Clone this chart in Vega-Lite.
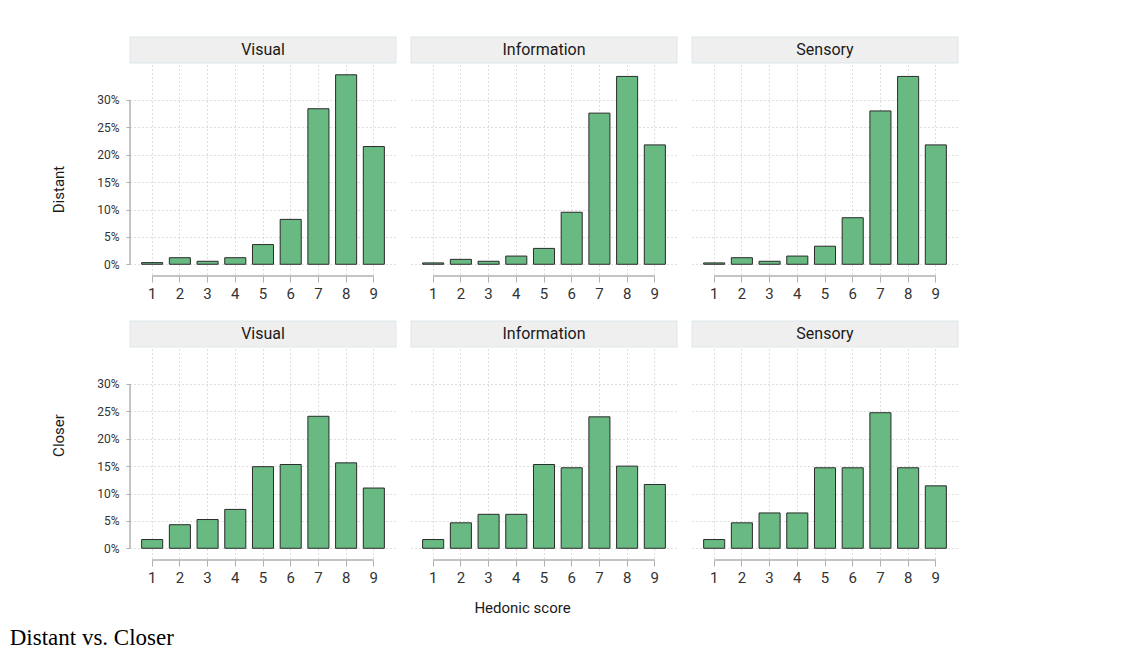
{
  "$schema": "https://vega.github.io/schema/vega-lite/v6.json",
  "background": "white",
  "padding": {"left": 9, "top": 36, "right": 5, "bottom": 5},
  "datasets": {
    "d": [
      {"dist": "Distant", "cond": "Visual", "score": 1, "pct": 0.003},
      {"dist": "Distant", "cond": "Visual", "score": 2, "pct": 0.012},
      {"dist": "Distant", "cond": "Visual", "score": 3, "pct": 0.0055},
      {"dist": "Distant", "cond": "Visual", "score": 4, "pct": 0.012},
      {"dist": "Distant", "cond": "Visual", "score": 5, "pct": 0.036},
      {"dist": "Distant", "cond": "Visual", "score": 6, "pct": 0.082},
      {"dist": "Distant", "cond": "Visual", "score": 7, "pct": 0.284},
      {"dist": "Distant", "cond": "Visual", "score": 8, "pct": 0.346},
      {"dist": "Distant", "cond": "Visual", "score": 9, "pct": 0.215},
      {"dist": "Distant", "cond": "Information", "score": 1, "pct": 0.0025},
      {"dist": "Distant", "cond": "Information", "score": 2, "pct": 0.009},
      {"dist": "Distant", "cond": "Information", "score": 3, "pct": 0.0055},
      {"dist": "Distant", "cond": "Information", "score": 4, "pct": 0.015},
      {"dist": "Distant", "cond": "Information", "score": 5, "pct": 0.029},
      {"dist": "Distant", "cond": "Information", "score": 6, "pct": 0.095},
      {"dist": "Distant", "cond": "Information", "score": 7, "pct": 0.276},
      {"dist": "Distant", "cond": "Information", "score": 8, "pct": 0.343},
      {"dist": "Distant", "cond": "Information", "score": 9, "pct": 0.218},
      {"dist": "Distant", "cond": "Sensory", "score": 1, "pct": 0.0025},
      {"dist": "Distant", "cond": "Sensory", "score": 2, "pct": 0.012},
      {"dist": "Distant", "cond": "Sensory", "score": 3, "pct": 0.0055},
      {"dist": "Distant", "cond": "Sensory", "score": 4, "pct": 0.015},
      {"dist": "Distant", "cond": "Sensory", "score": 5, "pct": 0.033},
      {"dist": "Distant", "cond": "Sensory", "score": 6, "pct": 0.085},
      {"dist": "Distant", "cond": "Sensory", "score": 7, "pct": 0.28},
      {"dist": "Distant", "cond": "Sensory", "score": 8, "pct": 0.343},
      {"dist": "Distant", "cond": "Sensory", "score": 9, "pct": 0.218},
      {"dist": "Closer", "cond": "Visual", "score": 1, "pct": 0.016},
      {"dist": "Closer", "cond": "Visual", "score": 2, "pct": 0.043},
      {"dist": "Closer", "cond": "Visual", "score": 3, "pct": 0.0525},
      {"dist": "Closer", "cond": "Visual", "score": 4, "pct": 0.071},
      {"dist": "Closer", "cond": "Visual", "score": 5, "pct": 0.149},
      {"dist": "Closer", "cond": "Visual", "score": 6, "pct": 0.153},
      {"dist": "Closer", "cond": "Visual", "score": 7, "pct": 0.241},
      {"dist": "Closer", "cond": "Visual", "score": 8, "pct": 0.156},
      {"dist": "Closer", "cond": "Visual", "score": 9, "pct": 0.11},
      {"dist": "Closer", "cond": "Information", "score": 1, "pct": 0.016},
      {"dist": "Closer", "cond": "Information", "score": 2, "pct": 0.0465},
      {"dist": "Closer", "cond": "Information", "score": 3, "pct": 0.062},
      {"dist": "Closer", "cond": "Information", "score": 4, "pct": 0.062},
      {"dist": "Closer", "cond": "Information", "score": 5, "pct": 0.153},
      {"dist": "Closer", "cond": "Information", "score": 6, "pct": 0.147},
      {"dist": "Closer", "cond": "Information", "score": 7, "pct": 0.24},
      {"dist": "Closer", "cond": "Information", "score": 8, "pct": 0.15},
      {"dist": "Closer", "cond": "Information", "score": 9, "pct": 0.1165},
      {"dist": "Closer", "cond": "Sensory", "score": 1, "pct": 0.016},
      {"dist": "Closer", "cond": "Sensory", "score": 2, "pct": 0.0465},
      {"dist": "Closer", "cond": "Sensory", "score": 3, "pct": 0.0645},
      {"dist": "Closer", "cond": "Sensory", "score": 4, "pct": 0.0645},
      {"dist": "Closer", "cond": "Sensory", "score": 5, "pct": 0.147},
      {"dist": "Closer", "cond": "Sensory", "score": 6, "pct": 0.147},
      {"dist": "Closer", "cond": "Sensory", "score": 7, "pct": 0.2475},
      {"dist": "Closer", "cond": "Sensory", "score": 8, "pct": 0.147},
      {"dist": "Closer", "cond": "Sensory", "score": 9, "pct": 0.114}
    ]
  },
  "title": {
    "text": "Distant vs. Closer",
    "orient": "bottom",
    "anchor": "start",
    "font": "Liberation Serif",
    "fontSize": 23,
    "fontWeight": "normal",
    "color": "#000000",
    "offset": 12,
    "dx": -42
  },
  "spacing": 19,
  "vconcat": [
    {
      "spacing": 13,
      "hconcat": [
        {
          "data": {"name": "d"},
          "transform": [{"filter": "datum.dist === 'Distant' && datum.cond === 'Visual'"}],
          "width": 266, "height": 239,
          "resolve": {"scale": {"x": "independent"}},
          "layer": [
            {"layer": [
              {"mark": {"type": "bar", "fill": "#69b982", "stroke": "#2a2a2a", "strokeWidth": 1},
               "encoding": {
                 "x": {"field": "score", "type": "ordinal", "scale": {"paddingInner": 0.24, "paddingOuter": 0.42}, "axis": {"title": null}},
                 "y": {"field": "pct", "type": "quantitative", "scale": {"domain": [-0.0214, 0.415], "nice": false, "zero": false},
                   "axis": {"title": "Distant", "titleY": 152, "values": [0, 0.05, 0.1, 0.15, 0.2, 0.25, 0.3], "format": ".0%", "labelOverlap": false}}}},
              {"transform": [{"filter": "datum.score === 1"}],
               "mark": {"type": "rule", "color": "#b0b0b0", "strokeWidth": 1.5},
               "encoding": {"x": {"datum": 1, "type": "ordinal", "bandPosition": 0.5, "axis": {"title": null}}, "x2": {"datum": 9, "bandPosition": 0.5},
                 "y": {"datum": -0.0214, "type": "quantitative", "axis": {"title": "Distant", "titleY": 152, "values": [0, 0.05, 0.1, 0.15, 0.2, 0.25, 0.3], "format": ".0%", "labelOverlap": false}}}},
              {"transform": [{"filter": "datum.score === 1"}],
               "mark": {"type": "rect", "fill": "#efefef", "stroke": "#dce6eb", "strokeWidth": 1},
               "encoding": {"y": {"datum": 0.3675, "type": "quantitative", "axis": {"title": "Distant", "titleY": 152, "values": [0, 0.05, 0.1, 0.15, 0.2, 0.25, 0.3], "format": ".0%", "labelOverlap": false}}, "y2": {"datum": 0.415}}},
              {"transform": [{"filter": "datum.score === 1"}],
               "mark": {"type": "text", "font": "Roboto", "fontSize": 16, "color": "#1a1a1a", "baseline": "middle"},
               "encoding": {"text": {"field": "cond"}, "y": {"datum": 0.391, "type": "quantitative", "axis": {"title": "Distant", "titleY": 152, "values": [0, 0.05, 0.1, 0.15, 0.2, 0.25, 0.3], "format": ".0%", "labelOverlap": false}}}}
            ]},
            {"transform": [{"filter": "datum.score === 1"}],
             "mark": {"type": "rule", "color": "#b0b0b0", "strokeWidth": 1.5},
             "encoding": {"x": {"datum": 0, "type": "quantitative", "scale": {"domain": [0, 1]}, "axis": null},
               "y": {"datum": 0, "type": "quantitative", "axis": {"title": "Distant", "titleY": 152, "values": [0, 0.05, 0.1, 0.15, 0.2, 0.25, 0.3], "format": ".0%", "labelOverlap": false}}, "y2": {"datum": 0.3}}}
          ]
        },
        {
          "data": {"name": "d"},
          "transform": [{"filter": "datum.dist === 'Distant' && datum.cond === 'Information'"}],
          "width": 266, "height": 239,
          "layer": [
            {"mark": {"type": "bar", "fill": "#69b982", "stroke": "#2a2a2a", "strokeWidth": 1},
             "encoding": {
               "x": {"field": "score", "type": "ordinal", "scale": {"paddingInner": 0.24, "paddingOuter": 0.42}, "axis": {"title": null}},
               "y": {"field": "pct", "type": "quantitative", "scale": {"domain": [-0.0214, 0.415], "nice": false, "zero": false},
                 "axis": {"title": null, "labels": false, "ticks": false, "values": [0, 0.05, 0.1, 0.15, 0.2, 0.25, 0.3]}}}},
            {"transform": [{"filter": "datum.score === 1"}],
             "mark": {"type": "rule", "color": "#b0b0b0", "strokeWidth": 1.5},
             "encoding": {"x": {"datum": 1, "type": "ordinal", "bandPosition": 0.5, "axis": {"title": null}}, "x2": {"datum": 9, "bandPosition": 0.5},
               "y": {"datum": -0.0214, "type": "quantitative", "axis": {"title": null, "labels": false, "ticks": false, "values": [0, 0.05, 0.1, 0.15, 0.2, 0.25, 0.3]}}}},
            {"transform": [{"filter": "datum.score === 1"}],
             "mark": {"type": "rect", "fill": "#efefef", "stroke": "#dce6eb", "strokeWidth": 1},
             "encoding": {"y": {"datum": 0.3675, "type": "quantitative", "axis": {"title": null, "labels": false, "ticks": false, "values": [0, 0.05, 0.1, 0.15, 0.2, 0.25, 0.3]}}, "y2": {"datum": 0.415}}},
            {"transform": [{"filter": "datum.score === 1"}],
             "mark": {"type": "text", "font": "Roboto", "fontSize": 16, "color": "#1a1a1a", "baseline": "middle"},
             "encoding": {"text": {"field": "cond"}, "y": {"datum": 0.391, "type": "quantitative", "axis": {"title": null, "labels": false, "ticks": false, "values": [0, 0.05, 0.1, 0.15, 0.2, 0.25, 0.3]}}}}
          ]
        },
        {
          "data": {"name": "d"},
          "transform": [{"filter": "datum.dist === 'Distant' && datum.cond === 'Sensory'"}],
          "width": 266, "height": 239,
          "layer": [
            {"mark": {"type": "bar", "fill": "#69b982", "stroke": "#2a2a2a", "strokeWidth": 1},
             "encoding": {
               "x": {"field": "score", "type": "ordinal", "scale": {"paddingInner": 0.24, "paddingOuter": 0.42}, "axis": {"title": null}},
               "y": {"field": "pct", "type": "quantitative", "scale": {"domain": [-0.0214, 0.415], "nice": false, "zero": false},
                 "axis": {"title": null, "labels": false, "ticks": false, "values": [0, 0.05, 0.1, 0.15, 0.2, 0.25, 0.3]}}}},
            {"transform": [{"filter": "datum.score === 1"}],
             "mark": {"type": "rule", "color": "#b0b0b0", "strokeWidth": 1.5},
             "encoding": {"x": {"datum": 1, "type": "ordinal", "bandPosition": 0.5, "axis": {"title": null}}, "x2": {"datum": 9, "bandPosition": 0.5},
               "y": {"datum": -0.0214, "type": "quantitative", "axis": {"title": null, "labels": false, "ticks": false, "values": [0, 0.05, 0.1, 0.15, 0.2, 0.25, 0.3]}}}},
            {"transform": [{"filter": "datum.score === 1"}],
             "mark": {"type": "rect", "fill": "#efefef", "stroke": "#dce6eb", "strokeWidth": 1},
             "encoding": {"y": {"datum": 0.3675, "type": "quantitative", "axis": {"title": null, "labels": false, "ticks": false, "values": [0, 0.05, 0.1, 0.15, 0.2, 0.25, 0.3]}}, "y2": {"datum": 0.415}}},
            {"transform": [{"filter": "datum.score === 1"}],
             "mark": {"type": "text", "font": "Roboto", "fontSize": 16, "color": "#1a1a1a", "baseline": "middle"},
             "encoding": {"text": {"field": "cond"}, "y": {"datum": 0.391, "type": "quantitative", "axis": {"title": null, "labels": false, "ticks": false, "values": [0, 0.05, 0.1, 0.15, 0.2, 0.25, 0.3]}}}}
          ]
        }
      ]
    },
    {
      "spacing": 13,
      "hconcat": [
        {
          "data": {"name": "d"},
          "transform": [{"filter": "datum.dist === 'Closer' && datum.cond === 'Visual'"}],
          "width": 266, "height": 239,
          "resolve": {"scale": {"x": "independent"}},
          "layer": [
            {"layer": [
              {"mark": {"type": "bar", "fill": "#69b982", "stroke": "#2a2a2a", "strokeWidth": 1},
               "encoding": {
                 "x": {"field": "score", "type": "ordinal", "scale": {"paddingInner": 0.24, "paddingOuter": 0.42}, "axis": {"title": null}},
                 "y": {"field": "pct", "type": "quantitative", "scale": {"domain": [-0.0214, 0.415], "nice": false, "zero": false},
                   "axis": {"title": "Closer", "titleY": 114, "values": [0, 0.05, 0.1, 0.15, 0.2, 0.25, 0.3], "format": ".0%", "labelOverlap": false}}}},
              {"transform": [{"filter": "datum.score === 1"}],
               "mark": {"type": "rule", "color": "#b0b0b0", "strokeWidth": 1.5},
               "encoding": {"x": {"datum": 1, "type": "ordinal", "bandPosition": 0.5, "axis": {"title": null}}, "x2": {"datum": 9, "bandPosition": 0.5},
                 "y": {"datum": -0.0214, "type": "quantitative", "axis": {"title": "Closer", "titleY": 114, "values": [0, 0.05, 0.1, 0.15, 0.2, 0.25, 0.3], "format": ".0%", "labelOverlap": false}}}},
              {"transform": [{"filter": "datum.score === 1"}],
               "mark": {"type": "rect", "fill": "#efefef", "stroke": "#dce6eb", "strokeWidth": 1},
               "encoding": {"y": {"datum": 0.3675, "type": "quantitative", "axis": {"title": "Closer", "titleY": 114, "values": [0, 0.05, 0.1, 0.15, 0.2, 0.25, 0.3], "format": ".0%", "labelOverlap": false}}, "y2": {"datum": 0.415}}},
              {"transform": [{"filter": "datum.score === 1"}],
               "mark": {"type": "text", "font": "Roboto", "fontSize": 16, "color": "#1a1a1a", "baseline": "middle"},
               "encoding": {"text": {"field": "cond"}, "y": {"datum": 0.391, "type": "quantitative", "axis": {"title": "Closer", "titleY": 114, "values": [0, 0.05, 0.1, 0.15, 0.2, 0.25, 0.3], "format": ".0%", "labelOverlap": false}}}}
            ]},
            {"transform": [{"filter": "datum.score === 1"}],
             "mark": {"type": "rule", "color": "#b0b0b0", "strokeWidth": 1.5},
             "encoding": {"x": {"datum": 0, "type": "quantitative", "scale": {"domain": [0, 1]}, "axis": null},
               "y": {"datum": 0, "type": "quantitative", "axis": {"title": "Closer", "titleY": 114, "values": [0, 0.05, 0.1, 0.15, 0.2, 0.25, 0.3], "format": ".0%", "labelOverlap": false}}, "y2": {"datum": 0.3}}}
          ]
        },
        {
          "data": {"name": "d"},
          "transform": [{"filter": "datum.dist === 'Closer' && datum.cond === 'Information'"}],
          "width": 266, "height": 239,
          "layer": [
            {"mark": {"type": "bar", "fill": "#69b982", "stroke": "#2a2a2a", "strokeWidth": 1},
             "encoding": {
               "x": {"field": "score", "type": "ordinal", "scale": {"paddingInner": 0.24, "paddingOuter": 0.42},
                 "axis": {"title": "Hedonic score", "titleX": 111, "titlePadding": 15}},
               "y": {"field": "pct", "type": "quantitative", "scale": {"domain": [-0.0214, 0.415], "nice": false, "zero": false},
                 "axis": {"title": null, "labels": false, "ticks": false, "values": [0, 0.05, 0.1, 0.15, 0.2, 0.25, 0.3]}}}},
            {"transform": [{"filter": "datum.score === 1"}],
             "mark": {"type": "rule", "color": "#b0b0b0", "strokeWidth": 1.5},
             "encoding": {"x": {"datum": 1, "type": "ordinal", "bandPosition": 0.5, "axis": {"title": "Hedonic score", "titleX": 111, "titlePadding": 15}}, "x2": {"datum": 9, "bandPosition": 0.5},
               "y": {"datum": -0.0214, "type": "quantitative", "axis": {"title": null, "labels": false, "ticks": false, "values": [0, 0.05, 0.1, 0.15, 0.2, 0.25, 0.3]}}}},
            {"transform": [{"filter": "datum.score === 1"}],
             "mark": {"type": "rect", "fill": "#efefef", "stroke": "#dce6eb", "strokeWidth": 1},
             "encoding": {"y": {"datum": 0.3675, "type": "quantitative", "axis": {"title": null, "labels": false, "ticks": false, "values": [0, 0.05, 0.1, 0.15, 0.2, 0.25, 0.3]}}, "y2": {"datum": 0.415}}},
            {"transform": [{"filter": "datum.score === 1"}],
             "mark": {"type": "text", "font": "Roboto", "fontSize": 16, "color": "#1a1a1a", "baseline": "middle"},
             "encoding": {"text": {"field": "cond"}, "y": {"datum": 0.391, "type": "quantitative", "axis": {"title": null, "labels": false, "ticks": false, "values": [0, 0.05, 0.1, 0.15, 0.2, 0.25, 0.3]}}}}
          ]
        },
        {
          "data": {"name": "d"},
          "transform": [{"filter": "datum.dist === 'Closer' && datum.cond === 'Sensory'"}],
          "width": 266, "height": 239,
          "layer": [
            {"mark": {"type": "bar", "fill": "#69b982", "stroke": "#2a2a2a", "strokeWidth": 1},
             "encoding": {
               "x": {"field": "score", "type": "ordinal", "scale": {"paddingInner": 0.24, "paddingOuter": 0.42}, "axis": {"title": null}},
               "y": {"field": "pct", "type": "quantitative", "scale": {"domain": [-0.0214, 0.415], "nice": false, "zero": false},
                 "axis": {"title": null, "labels": false, "ticks": false, "values": [0, 0.05, 0.1, 0.15, 0.2, 0.25, 0.3]}}}},
            {"transform": [{"filter": "datum.score === 1"}],
             "mark": {"type": "rule", "color": "#b0b0b0", "strokeWidth": 1.5},
             "encoding": {"x": {"datum": 1, "type": "ordinal", "bandPosition": 0.5, "axis": {"title": null}}, "x2": {"datum": 9, "bandPosition": 0.5},
               "y": {"datum": -0.0214, "type": "quantitative", "axis": {"title": null, "labels": false, "ticks": false, "values": [0, 0.05, 0.1, 0.15, 0.2, 0.25, 0.3]}}}},
            {"transform": [{"filter": "datum.score === 1"}],
             "mark": {"type": "rect", "fill": "#efefef", "stroke": "#dce6eb", "strokeWidth": 1},
             "encoding": {"y": {"datum": 0.3675, "type": "quantitative", "axis": {"title": null, "labels": false, "ticks": false, "values": [0, 0.05, 0.1, 0.15, 0.2, 0.25, 0.3]}}, "y2": {"datum": 0.415}}},
            {"transform": [{"filter": "datum.score === 1"}],
             "mark": {"type": "text", "font": "Roboto", "fontSize": 16, "color": "#1a1a1a", "baseline": "middle"},
             "encoding": {"text": {"field": "cond"}, "y": {"datum": 0.391, "type": "quantitative", "axis": {"title": null, "labels": false, "ticks": false, "values": [0, 0.05, 0.1, 0.15, 0.2, 0.25, 0.3]}}}}
          ]
        }
      ]
    }
  ],
  "config": {
    "view": {"stroke": null},
    "font": "Roboto",
    "axis": {
      "labelFont": "Roboto", "titleFont": "Roboto",
      "domain": false,
      "grid": true, "gridDash": [1, 3], "gridColor": "#c0c0c0",
      "tickColor": "#b0b0b0",
      "labelColor": "#333333",
      "titleColor": "#1a1a1a",
      "titleFontSize": 15,
      "titleFontWeight": "normal"
    },
    "axisX": {"labelAngle": 0, "tickSize": 6, "labelFontSize": 15, "labelPadding": 4},
    "axisY": {"tickSize": 4, "labelFontSize": 12, "labelPadding": 7, "titlePadding": 30}
  }
}
